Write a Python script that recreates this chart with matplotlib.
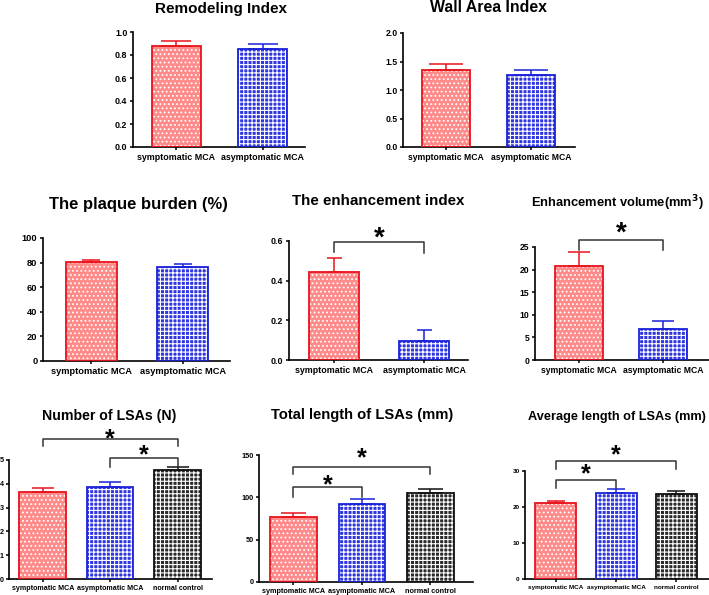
import matplotlib.pyplot as plt
from matplotlib.ticker import FormatStrFormatter

plt.rcParams['font.family'] = ['Liberation Sans', 'DejaVu Sans']
plt.rcParams['font.weight'] = 'bold'
plt.rcParams['hatch.linewidth'] = 0.8

W, H = 709, 595

groups2 = ['symptomatic MCA', 'asymptomatic MCA']
groups3 = ['symptomatic MCA', 'asymptomatic MCA', 'normal control']

# mean and upper error (SEM)
remodeling_mean = [0.875, 0.85]
remodeling_err = [0.048, 0.045]
wall_area_mean = [1.353, 1.265]
wall_area_err = [0.10, 0.082]
plaque_mean = [80.2, 76.4]
plaque_err = [1.9, 2.4]
enh_index_mean = [0.444, 0.0955]
enh_index_err = [0.072, 0.055]
enh_vol_mean = [20.8, 6.86]
enh_vol_err = [3.1, 1.8]
lsa_n_mean = [3.65, 3.86, 4.56]
lsa_n_err = [0.17, 0.20, 0.15]
lsa_total_mean = [77.0, 92.0, 105.0]
lsa_total_err = [4.7, 5.5, 5.1]
lsa_avg_mean = [21.0, 23.9, 23.7]
lsa_avg_err = [0.7, 1.0, 0.8]

# significance brackets: (bar a, bar b, top, left end, right end, star height)
enh_index_sig = [(0, 1, 0.595, 0.545, 0.54, 0.654)]
enh_vol_sig = [(0, 1, 26.5, 24.3, 24.3, 29.9)]
lsa_n_sig = [(0, 2, 5.9, 5.58, 5.58, 6.18), (1, 2, 5.07, 4.72, 4.71, 5.49)]
lsa_total_sig = [(0, 2, 136.2, 127.5, 127.5, 154.0),
                 (0, 1, 111.7, 100.7, 100.7, 122.4)]
lsa_avg_sig = [(0, 2, 32.9, 30.6, 30.6, 36.2), (0, 1, 27.6, 25.4, 25.4, 30.9)]

red_fill, red_edge = '#ff8a8a', '#e8141c'
blue_fill, blue_edge = '#2f36e0', '#1a22d8'
black_fill, black_edge = '#2a2a2a', '#111111'
fills = [red_fill, blue_fill, black_fill]
edges = [red_edge, blue_edge, black_edge]
hatches = ['....', '++++', '++++']


def px_axes(fig, l, r, t, b):
    return fig.add_axes([l / W, 1 - b / H, (r - l) / W, (b - t) / H])


def draw_panel(fig, box, labels, means, errs, xlim, ylim, step, fmt,
               fs, capsize, width=0.57, sig=(), star_fs=20):
    ax = px_axes(fig, *box)
    x = list(range(len(means)))
    ax.bar(x, means, width=width, color=fills[:len(x)], linewidth=0, zorder=1)
    for i in x:
        ax.bar(x[i], means[i], width=width, color='none', edgecolor='white',
               hatch=hatches[i], linewidth=0, zorder=2)
        ax.bar(x[i], means[i], width=width, color='none', edgecolor=edges[i],
               linewidth=1.3, zorder=3)
        ax.errorbar(x[i], means[i], yerr=[[0], [errs[i]]], color=edges[i],
                    capsize=capsize, elinewidth=1.1, capthick=1.1, zorder=2)
    for a, b, top, le, re, sy in sig:
        ax.plot([a, a, b, b], [le, top, top, re], color='#333333', lw=1.1,
                clip_on=False, zorder=4)
        # asterisk glyph centre sits about 0.56 em above the baseline
        ax.annotate('*', ((a + b) / 2, sy), xytext=(0, -0.56 * star_fs),
                    textcoords='offset points', ha='center', va='baseline',
                    fontsize=star_fs, fontweight='bold', annotation_clip=False)
    ax.set_xlim(*xlim)
    ax.set_ylim(0, ylim)
    ax.set_yticks([step * k for k in range(int(round(ylim / step)) + 1)])
    ax.yaxis.set_major_formatter(FormatStrFormatter(fmt))
    ax.set_xticks(x)
    ax.set_xticklabels(labels)
    ax.tick_params(labelsize=fs, length=2.5, width=1.1, pad=1.5)
    for s in ['top', 'right']:
        ax.spines[s].set_visible(False)
    for s in ['left', 'bottom']:
        ax.spines[s].set_linewidth(1.2)
    return ax


fig = plt.figure(figsize=(7.09, 5.95), dpi=100)

draw_panel(fig, (133, 305, 32, 147), groups2, remodeling_mean, remodeling_err,
           (-0.5, 1.49), 1.0, 0.2, '%.1f', 6.4, 11)
draw_panel(fig, (403, 575, 33, 147), groups2, wall_area_mean, wall_area_err,
           (-0.51, 1.52), 2.0, 0.5, '%.1f', 6.2, 12)
draw_panel(fig, (43, 230, 238, 361), groups2, plaque_mean, plaque_err,
           (-0.53, 1.52), 100, 20, '%d', 6.7, 6.5, width=0.56)
draw_panel(fig, (289, 468, 241, 360), groups2, enh_index_mean, enh_index_err,
           (-0.49, 1.48), 0.6, 0.2, '%.1f', 6.4, 5.4, width=0.55,
           sig=enh_index_sig)
draw_panel(fig, (535, 709, 247, 360), groups2, enh_vol_mean, enh_vol_err,
           (-0.52, 1.54), 25, 5, '%d', 6.2, 8, width=0.57, sig=enh_vol_sig)
draw_panel(fig, (9, 212, 460, 579), groups3, lsa_n_mean, lsa_n_err,
           (-0.5, 2.51), 5, 1, '%d', 5.1, 8, width=0.69, sig=lsa_n_sig,
           star_fs=18)
draw_panel(fig, (259, 473, 455, 582), groups3, lsa_total_mean, lsa_total_err,
           (-0.5, 2.62), 150, 50, '%d', 5.2, 9, width=0.68,
           sig=lsa_total_sig, star_fs=18)
draw_panel(fig, (525, 709, 471, 579), groups3, lsa_avg_mean, lsa_avg_err,
           (-0.51, 2.54), 30, 10, '%d', 4.6, 6.5, width=0.68,
           sig=lsa_avg_sig, star_fs=18)

titles = [
    ('Remodeling Index', 221, 9, 11),
    ('Wall Area Index', 489, 8, 11.4),
    ('The plaque burden (%)', 138, 205, 12),
    ('The enhancement index', 378, 201, 10.9),
    ('Enhancement volume(mm$^3$)', 617, 203, 9.3),
    ('Number of LSAs (N)', 109, 416, 10.2),
    ('Total length of LSAs (mm)', 362, 415, 10.6),
    ('Average length of LSAs (mm)', 617, 417, 9.2),
]
for text, cx, cy, size in titles:
    fig.text(cx / W, 1 - cy / H, text, ha='center', va='center',
             fontsize=size, fontweight='bold')

fig.savefig('out.png', dpi=100)
